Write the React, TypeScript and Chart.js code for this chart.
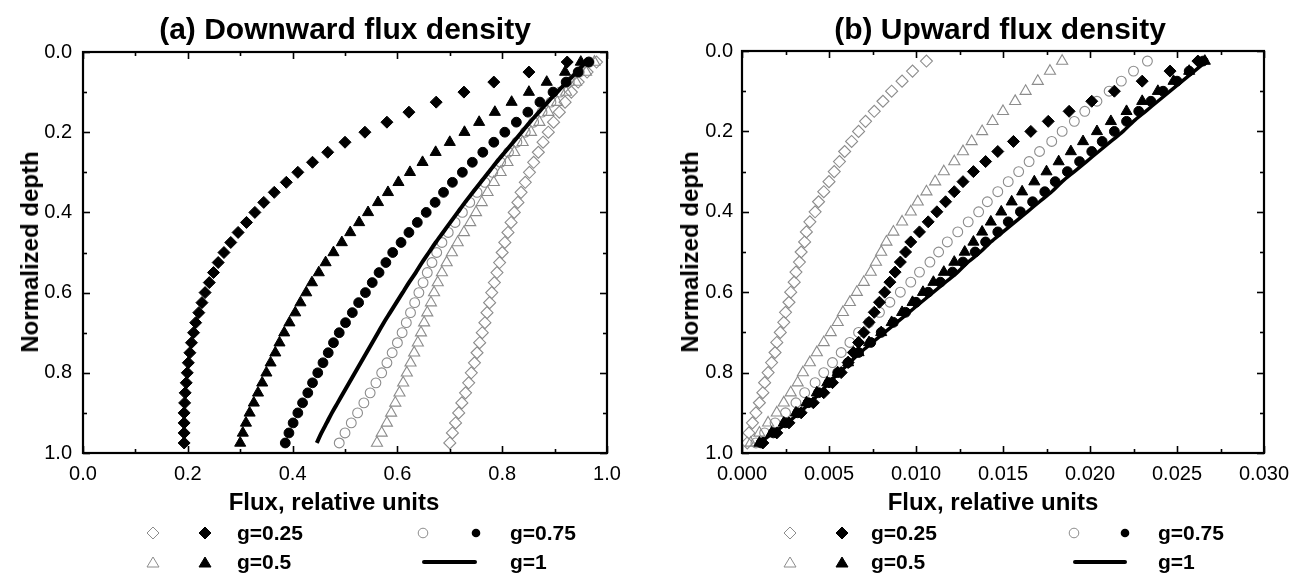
import React, { useEffect, useRef } from "react";
import { Chart, registerables } from "chart.js";
Chart.register(...registerables);

const FONT = "'Liberation Sans', Arial, Helvetica, sans-serif";

// ---------- data ----------
const depth = [0.025, 0.05, 0.075, 0.1, 0.125, 0.15, 0.175, 0.2, 0.225, 0.25, 0.275, 0.3, 0.325, 0.35, 0.375, 0.4, 0.425, 0.45, 0.475, 0.5, 0.525, 0.55, 0.575, 0.6, 0.625, 0.65, 0.675, 0.7, 0.725, 0.75, 0.775, 0.8, 0.825, 0.85, 0.875, 0.9, 0.925, 0.95, 0.975];

// (a) Downward flux density
const downG025Open = [0.980, 0.962, 0.945, 0.932, 0.920, 0.909, 0.898, 0.888, 0.878, 0.869, 0.860, 0.852, 0.844, 0.836, 0.830, 0.823, 0.817, 0.811, 0.805, 0.800, 0.795, 0.790, 0.785, 0.780, 0.776, 0.771, 0.767, 0.762, 0.757, 0.752, 0.747, 0.741, 0.736, 0.730, 0.723, 0.717, 0.711, 0.705, 0.700];
const downG025Filled = [0.924, 0.851, 0.784, 0.727, 0.674, 0.622, 0.580, 0.538, 0.500, 0.467, 0.438, 0.410, 0.388, 0.365, 0.345, 0.328, 0.312, 0.296, 0.282, 0.269, 0.258, 0.249, 0.241, 0.233, 0.227, 0.221, 0.215, 0.211, 0.207, 0.204, 0.201, 0.199, 0.197, 0.195, 0.194, 0.193, 0.193, 0.193, 0.193];
const downG05Open = [0.976, 0.960, 0.941, 0.922, 0.905, 0.888, 0.871, 0.855, 0.839, 0.823, 0.810, 0.797, 0.784, 0.772, 0.761, 0.750, 0.739, 0.727, 0.715, 0.704, 0.694, 0.685, 0.677, 0.670, 0.664, 0.657, 0.651, 0.645, 0.639, 0.632, 0.625, 0.618, 0.611, 0.604, 0.596, 0.588, 0.580, 0.570, 0.561];
const downG05Filled = [0.950, 0.920, 0.885, 0.851, 0.818, 0.786, 0.756, 0.728, 0.700, 0.673, 0.648, 0.624, 0.602, 0.582, 0.563, 0.544, 0.527, 0.510, 0.494, 0.478, 0.463, 0.450, 0.437, 0.426, 0.415, 0.405, 0.394, 0.384, 0.375, 0.367, 0.358, 0.350, 0.342, 0.334, 0.326, 0.318, 0.311, 0.305, 0.300];
const downG075Open = [0.966, 0.947, 0.928, 0.910, 0.893, 0.876, 0.860, 0.844, 0.828, 0.812, 0.797, 0.782, 0.767, 0.752, 0.738, 0.724, 0.710, 0.697, 0.685, 0.675, 0.666, 0.657, 0.649, 0.641, 0.633, 0.625, 0.617, 0.609, 0.600, 0.590, 0.580, 0.570, 0.559, 0.548, 0.536, 0.524, 0.512, 0.500, 0.489];
const downG075Filled = [0.965, 0.945, 0.922, 0.897, 0.872, 0.849, 0.827, 0.805, 0.784, 0.763, 0.743, 0.724, 0.705, 0.688, 0.672, 0.655, 0.638, 0.622, 0.607, 0.591, 0.578, 0.565, 0.552, 0.539, 0.526, 0.514, 0.501, 0.489, 0.478, 0.468, 0.458, 0.448, 0.438, 0.429, 0.419, 0.410, 0.401, 0.393, 0.386];
const downG1 = [0.960, 0.942, 0.923, 0.905, 0.887, 0.870, 0.853, 0.837, 0.821, 0.805, 0.789, 0.774, 0.759, 0.744, 0.729, 0.715, 0.701, 0.687, 0.673, 0.660, 0.647, 0.635, 0.622, 0.610, 0.598, 0.586, 0.574, 0.563, 0.552, 0.541, 0.530, 0.519, 0.508, 0.497, 0.486, 0.475, 0.465, 0.455, 0.446];

// (b) Upward flux density
const upG025Open = [0.0106, 0.0098, 0.0092, 0.0086, 0.0081, 0.0076, 0.0071, 0.0067, 0.0063, 0.0059, 0.0056, 0.0053, 0.0050, 0.0047, 0.0044, 0.0042, 0.0039, 0.0037, 0.0036, 0.0034, 0.0033, 0.0031, 0.0030, 0.0028, 0.0027, 0.0025, 0.0024, 0.0022, 0.0020, 0.0019, 0.0017, 0.0015, 0.0013, 0.0012, 0.0010, 0.0008, 0.0006, 0.0004, 0.0003];
const upG025Filled = [0.0262, 0.0246, 0.0230, 0.0214, 0.0201, 0.0188, 0.0176, 0.0166, 0.0156, 0.0147, 0.0140, 0.0133, 0.0127, 0.0122, 0.0117, 0.0112, 0.0107, 0.0102, 0.0097, 0.0094, 0.0091, 0.0088, 0.0085, 0.0082, 0.0079, 0.0076, 0.0073, 0.0070, 0.0067, 0.0064, 0.0061, 0.0057, 0.0052, 0.0047, 0.0041, 0.0034, 0.0027, 0.0020, 0.0012];
const upG05Open = [0.0184, 0.0177, 0.0170, 0.0163, 0.0157, 0.0150, 0.0144, 0.0138, 0.0132, 0.0127, 0.0122, 0.0116, 0.0111, 0.0106, 0.0101, 0.0097, 0.0092, 0.0087, 0.0083, 0.0080, 0.0077, 0.0074, 0.0070, 0.0066, 0.0062, 0.0058, 0.0055, 0.0051, 0.0047, 0.0043, 0.0039, 0.0035, 0.0032, 0.0028, 0.0024, 0.0020, 0.0015, 0.0010, 0.0005];
const upG05Filled = [0.0266, 0.0257, 0.0248, 0.0239, 0.0230, 0.0221, 0.0212, 0.0204, 0.0196, 0.0189, 0.0182, 0.0175, 0.0168, 0.0161, 0.0155, 0.0149, 0.0143, 0.0138, 0.0133, 0.0128, 0.0122, 0.0116, 0.0110, 0.0104, 0.0098, 0.0092, 0.0086, 0.0080, 0.0073, 0.0067, 0.0061, 0.0055, 0.0049, 0.0043, 0.0037, 0.0031, 0.0024, 0.0017, 0.0010];
const upG075Open = [0.0233, 0.0225, 0.0218, 0.0211, 0.0204, 0.0197, 0.0191, 0.0184, 0.0178, 0.0171, 0.0165, 0.0159, 0.0153, 0.0147, 0.0141, 0.0136, 0.0130, 0.0124, 0.0118, 0.0113, 0.0108, 0.0102, 0.0097, 0.0091, 0.0085, 0.0079, 0.0073, 0.0067, 0.0062, 0.0057, 0.0052, 0.0047, 0.0042, 0.0036, 0.0031, 0.0025, 0.0019, 0.0013, 0.0008];
const upG075Filled = [0.0265, 0.0257, 0.0250, 0.0242, 0.0235, 0.0228, 0.0221, 0.0214, 0.0207, 0.0201, 0.0194, 0.0187, 0.0180, 0.0174, 0.0167, 0.0160, 0.0153, 0.0147, 0.0140, 0.0134, 0.0127, 0.0121, 0.0114, 0.0107, 0.0100, 0.0094, 0.0087, 0.0080, 0.0074, 0.0067, 0.0061, 0.0055, 0.0050, 0.0044, 0.0038, 0.0032, 0.0025, 0.0018, 0.0011];
const upG1 = [0.0267, 0.0260, 0.0253, 0.0246, 0.0239, 0.0232, 0.0225, 0.0219, 0.0212, 0.0205, 0.0198, 0.0191, 0.0184, 0.0178, 0.0171, 0.0164, 0.0157, 0.0150, 0.0143, 0.0137, 0.0130, 0.0124, 0.0117, 0.0110, 0.0103, 0.0096, 0.0089, 0.0082, 0.0075, 0.0068, 0.0062, 0.0056, 0.0050, 0.0045, 0.0039, 0.0033, 0.0026, 0.0018, 0.0010];

// ---------- ticks ----------
const depthTicks = [0, 0.2, 0.4, 0.6, 0.8, 1.0];
const depthMinor = [0.1, 0.3, 0.5, 0.7, 0.9];
const downXTicks = [0, 0.2, 0.4, 0.6, 0.8, 1.0];
const downXMinor = [0.1, 0.3, 0.5, 0.7, 0.9];
const upXTicks = [0, 0.005, 0.01, 0.015, 0.02, 0.025, 0.03];
const upXMinor = [0.0025, 0.0075, 0.0125, 0.0175, 0.0225, 0.0275];

const legendLabels = ["g=0.25", "g=0.5", "g=0.75", "g=1"];

const GRAY = "#8c8c8c";

type Kind = "diamond" | "triangle" | "circle" | "line";
type Series = { values: number[]; kind: Kind; filled: boolean };

const downSeries: Series[] = [
  { values: downG025Filled, kind: "diamond", filled: true },
  { values: downG05Filled, kind: "triangle", filled: true },
  { values: downG075Filled, kind: "circle", filled: true },
  { values: downG1, kind: "line", filled: true },
  { values: downG025Open, kind: "diamond", filled: false },
  { values: downG05Open, kind: "triangle", filled: false },
  { values: downG075Open, kind: "circle", filled: false },
];
const upSeries: Series[] = [
  { values: upG025Filled, kind: "diamond", filled: true },
  { values: upG05Filled, kind: "triangle", filled: true },
  { values: upG075Filled, kind: "circle", filled: true },
  { values: upG1, kind: "line", filled: true },
  { values: upG025Open, kind: "diamond", filled: false },
  { values: upG05Open, kind: "triangle", filled: false },
  { values: upG075Open, kind: "circle", filled: false },
];

function toDataset(s: Series, lineWidth: number) {
  const data = depth.map((d, i) => ({ x: s.values[i], y: d }));
  if (s.kind === "line") {
    return {
      data,
      showLine: true,
      borderColor: "#000",
      borderWidth: lineWidth,
      pointRadius: 0,
      tension: 0.3,
      fill: false,
    };
  }
  const style = s.kind === "diamond" ? "rectRot" : s.kind === "triangle" ? "triangle" : "circle";
  const radius = s.kind === "diamond" ? 6 : s.kind === "triangle" ? 6.4 : 4.9;
  return {
    data,
    showLine: false,
    pointStyle: style,
    pointRadius: radius,
    pointBorderWidth: s.filled ? 1 : 1.1,
    pointBorderColor: s.filled ? "#000" : GRAY,
    pointBackgroundColor: s.filled ? "#000" : "rgba(0,0,0,0)",
  };
}

type PanelCfg = {
  left: number;
  width: number;
  top: number;
  padRight: number;
  yWidth: number;
  yPad: number;
  xMax: number;
  xTicks: number[];
  xMinor: number[];
  decimals: number;
  series: Series[];
  lineWidth: number;
};

function makeFramePlugin(cfg: PanelCfg) {
  return {
    id: "frameTicks",
    afterDatasetsDraw(chart: any) {
      const { ctx, chartArea: a, scales } = chart;
      const xs = scales.x;
      const ys = scales.y;
      ctx.save();
      ctx.strokeStyle = "#000";
      ctx.lineWidth = 1.6;
      const seg = (x1: number, y1: number, x2: number, y2: number) => {
        ctx.beginPath();
        ctx.moveTo(x1, y1);
        ctx.lineTo(x2, y2);
        ctx.stroke();
      };
      const MAJ = 7;
      const MIN = 4;
      const xt = (vals: number[], len: number) => {
        for (const v of vals) {
          const px = Math.round(xs.getPixelForValue(v)) + 0.5;
          seg(px, a.bottom, px, a.bottom - len);
          seg(px, a.top, px, a.top + len);
        }
      };
      const yt = (vals: number[], len: number) => {
        for (const v of vals) {
          const py = Math.round(ys.getPixelForValue(v)) + 0.5;
          seg(a.left, py, a.left + len, py);
          seg(a.right, py, a.right - len, py);
        }
      };
      xt(cfg.xTicks, MAJ);
      xt(cfg.xMinor, MIN);
      yt(depthTicks, MAJ);
      yt(depthMinor, MIN);
      ctx.lineWidth = 2.2;
      ctx.strokeRect(a.left, a.top, a.right - a.left, a.bottom - a.top);
      ctx.restore();
    },
  };
}

function Panel({ cfg }: { cfg: PanelCfg }) {
  const ref = useRef<HTMLCanvasElement>(null);
  useEffect(() => {
    const tickFont = { family: FONT, size: 20 };
    const chart = new Chart(ref.current as HTMLCanvasElement, {
      type: "scatter",
      data: { datasets: cfg.series.map((s) => toDataset(s, cfg.lineWidth)) as any },
      options: {
        animation: false,
        responsive: false,
        maintainAspectRatio: false,
        events: [],
        layout: { padding: { left: 0, top: cfg.top, right: cfg.padRight, bottom: 579 - 453 - 30 } },
        plugins: { legend: { display: false }, tooltip: { enabled: false }, title: { display: false } },
        scales: {
          x: {
            type: "linear",
            min: 0,
            max: cfg.xMax,
            grid: { display: false, drawTicks: false },
            border: { display: false },
            ticks: {
              color: "#000",
              font: tickFont,
              padding: 9,
              maxRotation: 0,
              autoSkip: false,
              callback: (v: any) => Number(v).toFixed(cfg.decimals),
            },
            afterBuildTicks: (s: any) => {
              s.ticks = cfg.xTicks.map((v) => ({ value: v }));
            },
            afterFit: (s: any) => {
              s.height = 30;
            },
          },
          y: {
            type: "linear",
            reverse: true,
            min: 0,
            max: 1,
            grid: { display: false, drawTicks: false },
            border: { display: false },
            ticks: {
              color: "#000",
              font: tickFont,
              padding: cfg.yPad,
              autoSkip: false,
              callback: (v: any) => Number(v).toFixed(1),
            },
            afterBuildTicks: (s: any) => {
              s.ticks = depthTicks.map((v) => ({ value: v }));
            },
            afterFit: (s: any) => {
              s.width = cfg.yWidth;
            },
          },
        },
      } as any,
      plugins: [makeFramePlugin(cfg)],
    });
    return () => chart.destroy();
  }, []);
  return (
    <canvas
      ref={ref}
      width={cfg.width}
      height={579}
      style={{ position: "absolute", left: cfg.left, top: 0, width: cfg.width, height: 579 }}
    />
  );
}

function Sym({ cx, cy, kind, filled }: { cx: number; cy: number; kind: Kind; filled: boolean }) {
  const color = filled ? "#000" : GRAY;
  const fill = filled ? "#000" : "none";
  let shape: any = null;
  if (kind === "diamond") shape = <polygon points="8,2 14,8 8,14 2,8" fill={fill} stroke={color} strokeWidth={1} />;
  if (kind === "triangle") shape = <polygon points="8,3 14,13 2,13" fill={fill} stroke={color} strokeWidth={1} />;
  if (kind === "circle")
    shape = filled ? (
      <circle cx={8} cy={8} r={4.3} fill="#000" />
    ) : (
      <circle cx={8} cy={8} r={4.8} fill="none" stroke={color} strokeWidth={1} />
    );
  return (
    <svg width={16} height={16} style={{ position: "absolute", left: cx - 8, top: cy - 8 }}>
      {shape}
    </svg>
  );
}

function Text({ x, y, size, children, center }: any) {
  return (
    <div
      style={{
        position: "absolute",
        left: x,
        top: y,
        fontFamily: FONT,
        fontWeight: "bold",
        fontSize: size,
        lineHeight: `${size}px`,
        whiteSpace: "nowrap",
        color: "#000",
        transform: center ? "translateX(-50%)" : undefined,
      }}
    >
      {children}
    </div>
  );
}

function YTitle({ cx, cy }: { cx: number; cy: number }) {
  return (
    <div
      style={{
        position: "absolute",
        left: cx,
        top: cy,
        fontFamily: FONT,
        fontWeight: "bold",
        fontSize: 24,
        lineHeight: "24px",
        whiteSpace: "nowrap",
        transform: "translate(-50%, -50%) rotate(-90deg)",
      }}
    >
      Normalized depth
    </div>
  );
}

function Legend({ o }: { o: { d1: number; d2: number; t1: number; c1: number; c2: number; t2: number; l1: number; l2: number } }) {
  const r1 = 533;
  const r2 = 562;
  return (
    <>
      <Sym cx={o.d1} cy={r1} kind="diamond" filled={false} />
      <Sym cx={o.d2} cy={r1} kind="diamond" filled={true} />
      <Text x={o.t1} y={522} size={21}>{legendLabels[0]}</Text>
      <Sym cx={o.d1} cy={r2} kind="triangle" filled={false} />
      <Sym cx={o.d2} cy={r2} kind="triangle" filled={true} />
      <Text x={o.t1} y={551} size={21}>{legendLabels[1]}</Text>
      <Sym cx={o.c1} cy={r1} kind="circle" filled={false} />
      <Sym cx={o.c2} cy={r1} kind="circle" filled={true} />
      <Text x={o.t2} y={522} size={21}>{legendLabels[2]}</Text>
      <div style={{ position: "absolute", left: o.l1, top: r2 - 2, width: o.l2 - o.l1, height: 4, background: "#000", borderRadius: 2 }} />
      <Text x={o.t2} y={551} size={21}>{legendLabels[3]}</Text>
    </>
  );
}

const leftCfg: PanelCfg = {
  left: 0,
  width: 650,
  top: 52,
  padRight: 650 - 607,
  yWidth: 83,
  yPad: 11,
  xMax: 1,
  xTicks: downXTicks,
  xMinor: downXMinor,
  decimals: 1,
  series: downSeries,
  lineWidth: 4,
};
const rightCfg: PanelCfg = {
  left: 650,
  width: 651,
  top: 51,
  padRight: 651 - 614,
  yWidth: 92,
  yPad: 9,
  xMax: 0.03,
  xTicks: upXTicks,
  xMinor: upXMinor,
  decimals: 3,
  series: upSeries,
  lineWidth: 3.5,
};

export default function App() {
  return (
    <div style={{ position: "absolute", left: 0, top: 0, width: 1301, height: 579, background: "#fff", overflow: "hidden" }}>
      <Panel cfg={leftCfg} />
      <Panel cfg={rightCfg} />
      <Text x={345} y={14} size={30} center>(a) Downward flux density</Text>
      <Text x={1000} y={14} size={30} center>(b) Upward flux density</Text>
      <Text x={334} y={490} size={24} center>Flux, relative units</Text>
      <Text x={993} y={490} size={24} center>Flux, relative units</Text>
      <YTitle cx={30} cy={252} />
      <YTitle cx={690} cy={252} />
      <Legend o={{ d1: 153, d2: 205, t1: 237, c1: 423, c2: 476, t2: 510, l1: 422, l2: 477 }} />
      <Legend o={{ d1: 790, d2: 842, t1: 871, c1: 1074, c2: 1125, t2: 1158, l1: 1073, l2: 1127 }} />
    </div>
  );
}
